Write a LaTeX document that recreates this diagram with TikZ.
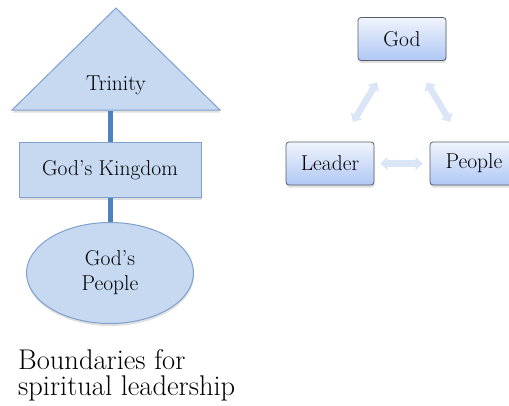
\documentclass[tikz,border=0pt]{standalone}
\usepackage{tikz}
\usetikzlibrary{arrows.meta, shapes.geometric, shadows}

\definecolor{boxfill}{RGB}{198,217,241}
\definecolor{boxline}{RGB}{128,160,205}
\definecolor{linkblue}{RGB}{79,129,189}
\definecolor{topfill}{RGB}{240,244,252}
\definecolor{botfill}{RGB}{176,200,245}
\definecolor{frameline}{RGB}{88,94,108}
\definecolor{arrowfill}{RGB}{218,229,245}

\tikzset{
  plain/.style={fill=boxfill, draw=boxline, line width=1pt,
    drop shadow={opacity=0.25, shadow xshift=0.5pt, shadow yshift=-2.5pt}},
  label/.style={font=\fontsize{21.5}{25}\selectfont, align=center},
  link/.style={draw=linkblue, line width=5pt},
  role/.style={draw=frameline, line width=0.8pt, rounded corners=3pt,
    top color=topfill, bottom color=botfill,
    minimum width=88pt, minimum height=43pt,
    drop shadow={opacity=0.25, shadow xshift=0.5pt, shadow yshift=-2.5pt}},
  relation/.style={draw=arrowfill, line width=6.5pt,
    {Triangle[width=13pt,length=7pt]}-{Triangle[width=13pt,length=7pt]},
    shorten <=25pt, shorten >=23pt}
}

\begin{document}
\begin{tikzpicture}[x=1pt,y=-1pt]

    \useasboundingbox (0,0) rectangle (509,405);

    % left: boundaries
    \filldraw[plain] (12,110) -- (116,8) -- (220,110) -- cycle;
    \node[label] (trinity) at (116,85) {Trinity};
    \coordinate (tribase) at (110,111);

    \node[plain, label, minimum width=182pt, minimum height=55pt] (kingdom) at (110,170) {God's Kingdom};
    \node[plain, label, ellipse, minimum width=167pt, minimum height=101pt] (flock) at (110,273) {God's\\People};

    \draw[link] (tribase) -- (kingdom);
    \draw[link] (kingdom) -- (flock);

    \node[anchor=north west, align=left, inner sep=0pt, font=\fontsize{28.5}{26}\selectfont] (caption) at (18,349) {Boundaries for\\spiritual leadership};

    % right: relations
    \node[role, label] (god) at (402,39) {God};
    \node[role, label] (leader) at (330,163.5) {Leader};
    \node[role, label] (people) at (474,163.5) {People};

    \draw[relation] ([xshift=-12pt]god.south) -- ([xshift=11pt]leader.north);
    \draw[relation] ([xshift=12pt]god.south) -- ([xshift=-12pt]people.north);
    \draw[relation, shorten <=6pt, shorten >=7pt] (leader) -- (people);

\end{tikzpicture}
\end{document}
